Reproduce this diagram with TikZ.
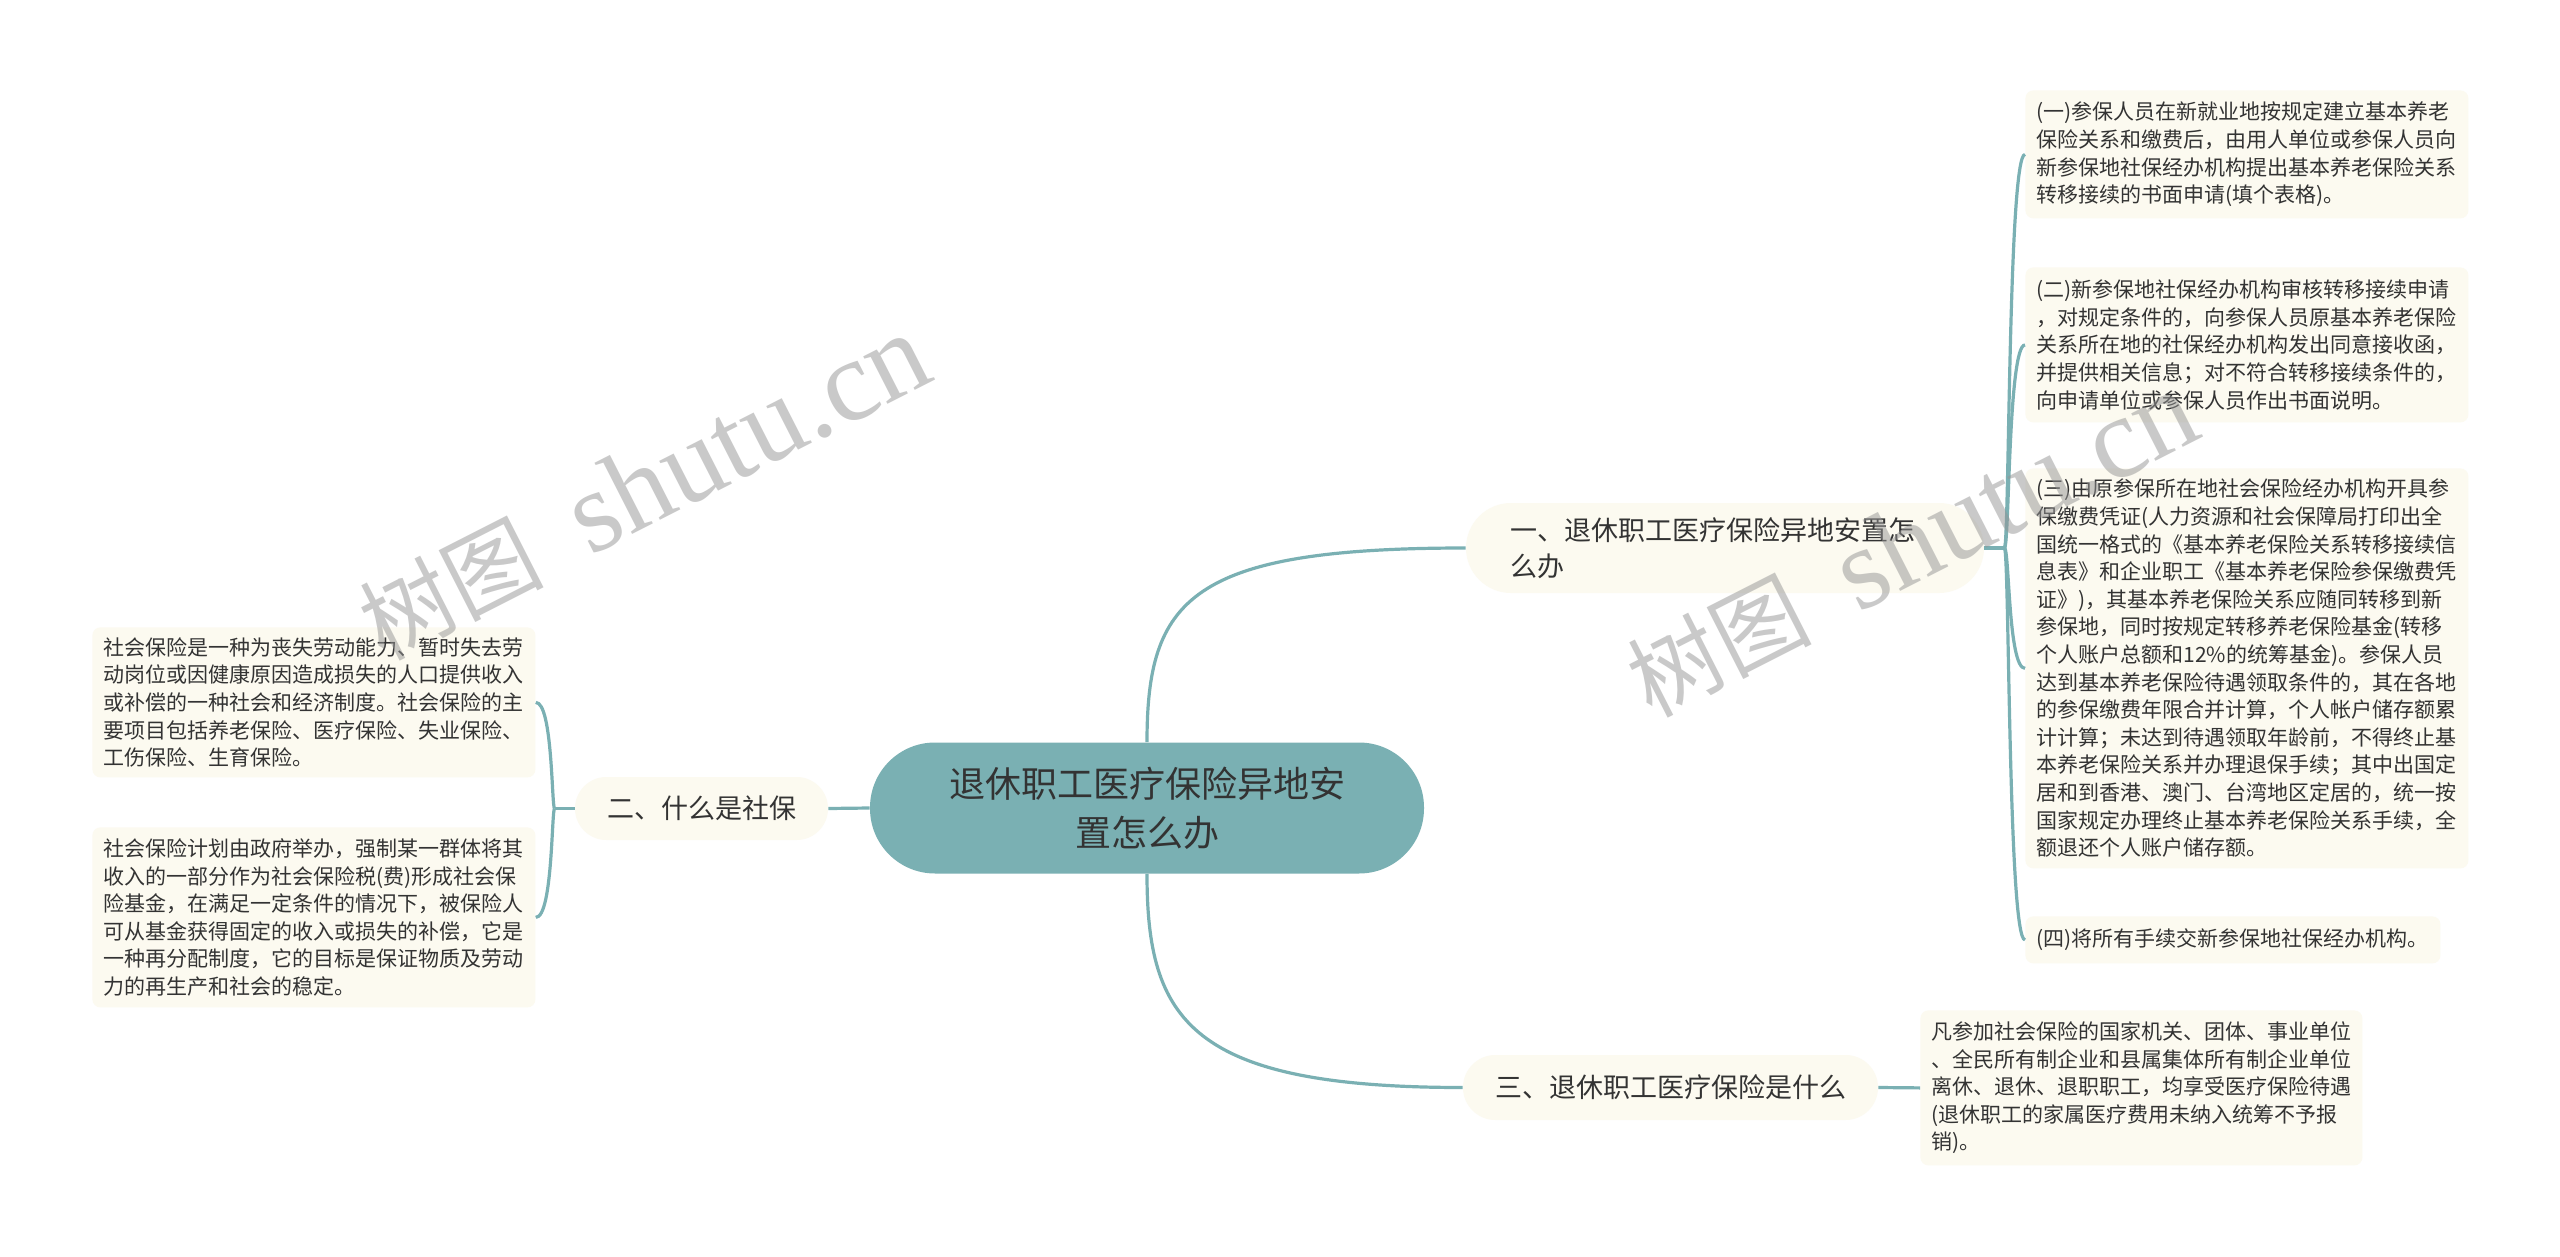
\documentclass[tikz,border=0pt]{standalone}
\usepackage{fontspec}
\newfontfamily\cjk{Noto Sans CJK SC}
\newfontfamily\wmserif{Liberation Serif}
\usetikzlibrary{calc}
\definecolor{teal1}{RGB}{122,176,179}
\definecolor{cream}{RGB}{252,250,240}
\definecolor{ink}{RGB}{51,51,51}
\begin{document}
\begin{tikzpicture}[x=0.5pt,y=-0.5pt,
  conn/.style={draw=teal1,line width=1.6pt},
  leaf/.style={fill=cream,rounded corners=4pt,anchor=north west,align=left,inner xsep=5.5pt,inner ysep=0pt,text=ink,font={\cjk\fontsize{10.5pt}{13.8pt}\selectfont}},
  branch/.style={fill=cream,text=ink,inner sep=0pt,font={\cjk\fontsize{13.5pt}{18pt}\selectfont}},
  wm/.style={text=black!42,opacity=0.5,rotate=27,inner sep=0pt}]
\useasboundingbox (0,0) rectangle (2560,1257);
\fill[white] (0,0) rectangle (2560,1257);

% central node
\node[fill=teal1,rounded corners=32.5pt,minimum width=277pt,minimum height=65.5pt,align=center,text=ink,inner sep=0pt,font={\cjk\fontsize{18pt}{24.5pt}\selectfont}] (c) at (1147,808) {退休职工医疗保险异地安\\置怎么办};

% branches
\node[branch,rounded corners=22.5pt,minimum width=259pt,minimum height=45pt,text width=215pt,align=left,inner xsep=22pt] (b1) at (1725,548) {一、退休职工医疗保险异地安置怎\\么办};
\node[branch,rounded corners=15.7pt,minimum width=126.5pt,minimum height=31.5pt] (b2) at (701.5,808.5) {二、什么是社保};
\node[branch,rounded corners=16.2pt,minimum width=207.5pt,minimum height=32.5pt] (b3) at (1670.5,1087.5) {三、退休职工医疗保险是什么};

% leaves of branch 1
\node[leaf,text width=210.5pt,minimum height=64pt] (l1a) at (2025,90) {(一)参保人员在新就业地按规定建立基本养老\\保险关系和缴费后，由用人单位或参保人员向\\新参保地社保经办机构提出基本养老保险关系\\转移接续的书面申请(填个表格)。};
\node[leaf,text width=210.5pt,minimum height=77.5pt] (l1b) at (2025,267) {(二)新参保地社保经办机构审核转移接续申请\\，对规定条件的，向参保人员原基本养老保险\\关系所在地的社保经办机构发出同意接收函，\\并提供相关信息；对不符合转移接续条件的，\\向申请单位或参保人员作出书面说明。};
\node[leaf,text width=210.5pt,minimum height=200pt] (l1c) at (2025,468) {(三)由原参保所在地社会保险经办机构开具参\\保缴费凭证(人力资源和社会保障局打印出全\\国统一格式的《基本养老保险关系转移接续信\\息表》和企业职工《基本养老保险参保缴费凭\\证》)，其基本养老保险关系应随同转移到新\\参保地，同时按规定转移养老保险基金(转移\\个人账户总额和12\%的统筹基金)。参保人员\\达到基本养老保险待遇领取条件的，其在各地\\的参保缴费年限合并计算，个人帐户储存额累\\计计算；未达到待遇领取年龄前，不得终止基\\本养老保险关系并办理退保手续；其中出国定\\居和到香港、澳门、台湾地区定居的，统一按\\国家规定办理终止基本养老保险关系手续，全\\额退还个人账户储存额。};
\node[leaf,text width=196.5pt,minimum height=23.5pt] (l1d) at (2025,916) {(四)将所有手续交新参保地社保经办机构。};

% leaf of branch 3
\node[leaf,text width=210pt,minimum height=77.5pt] (l3) at (1920,1010) {凡参加社会保险的国家机关、团体、事业单位\\、全民所有制企业和县属集体所有制企业单位\\离休、退休、退职职工，均享受医疗保险待遇\\(退休职工的家属医疗费用未纳入统筹不予报\\销)。};

% leaves of branch 2
\node[leaf,text width=210.5pt,minimum height=75pt] (l2a) at (92,627) {社会保险是一种为丧失劳动能力、暂时失去劳\\动岗位或因健康原因造成损失的人口提供收入\\或补偿的一种社会和经济制度。社会保险的主\\要项目包括养老保险、医疗保险、失业保险、\\工伤保险、生育保险。};
\node[leaf,text width=210.5pt,minimum height=90pt] (l2b) at (92,827) {社会保险计划由政府举办，强制某一群体将其\\收入的一部分作为社会保险税(费)形成社会保\\险基金，在满足一定条件的情况下，被保险人\\可从基金获得固定的收入或损失的补偿，它是\\一种再分配制度，它的目标是保证物质及劳动\\力的再生产和社会的稳定。};

% connectors
\draw[conn] (c.north) .. controls +(0,-143) and +(-276,0) .. (b1.west);
\draw[conn] (c.south) .. controls +(0,146) and +(-273,0) .. (b3.west);
\draw[conn] (c.west) -- (b2.east);

\coordinate (j1) at ($(b1.east)+(20,0)$);
\draw[conn] (b1.east) -- (j1);
\foreach \l in {l1a,l1b,l1c,l1d}
  \draw[conn] (j1) .. controls +(5,0) and +(-17,0) .. (\l.west);

\coordinate (j2) at ($(b2.west)+(-20,0)$);
\draw[conn] (b2.west) -- (j2);
\foreach \l in {l2a,l2b}
  \draw[conn] (j2) .. controls +(-3,0) and +(17,0) .. (\l.east);

\draw[conn] (b3.east) -- (l3.west);

% watermarks
\node[wm] (wm1) at (644,488) {{\cjk\fontsize{46pt}{46pt}\selectfont 树图}\hspace{24pt}{\wmserif\fontsize{58pt}{58pt}\selectfont shutu.cn}};
\node[wm] (wm2) at (1912,545) {{\cjk\fontsize{46pt}{46pt}\selectfont 树图}\hspace{24pt}{\wmserif\fontsize{58pt}{58pt}\selectfont shutu.cn}};
\end{tikzpicture}
\end{document}
